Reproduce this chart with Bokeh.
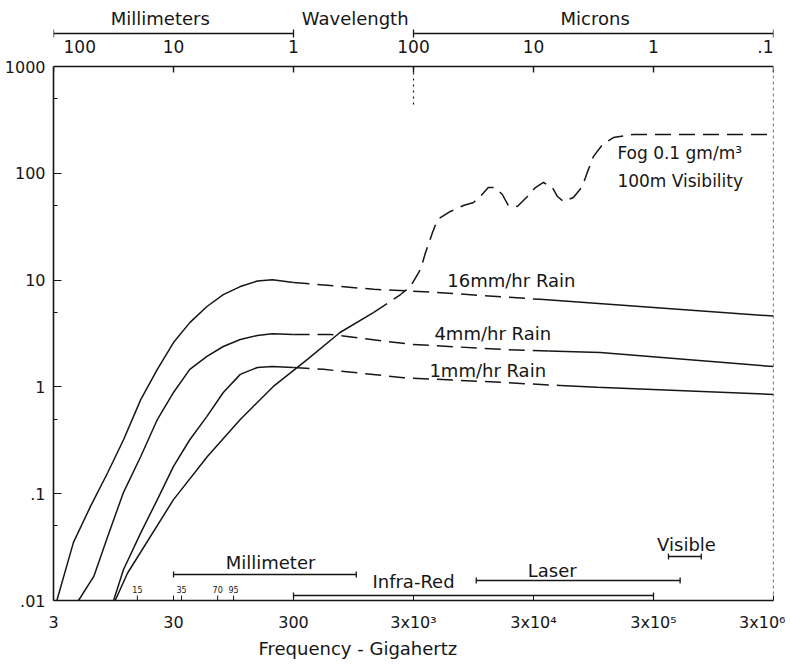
from bokeh.plotting import figure
from bokeh.models import Range1d, FixedTicker, Title
from bokeh.core.properties import value
from bokeh.embed import file_html
from bokeh.resources import INLINE

# ---------------- data ----------------
freq_ticks = [3, 30, 300, 3000, 30000, 300000, 3000000]
freq_tick_labels = ["3", "30", "300", "3x10³", "3x10⁴", "3x10⁵", "3x10⁶"]
atten_ticks = [0.01, 0.1, 1, 10, 100, 1000]
atten_tick_labels = [".01", ".1", "1", "10", "100", "1000"]
atten_minor = [0.05, 0.5, 5, 50, 500]

mm_wavelengths = [100, 10, 1]            # millimetres
mm_labels = ["100", "10", "1"]
micron_wavelengths = [100, 10, 1, 0.1]   # microns
micron_labels = ["100", "10", "1", ".1"]

window_freqs = [15, 35, 70, 95]
window_labels = ["15", "35", "70", "95"]

# 16 mm/hr rain
rain16_rise_f = [3.2, 4.4, 6.1, 8.5, 11.5, 16, 22, 30, 41, 57, 78, 108, 150, 200, 300]
rain16_rise_a = [0.01, 0.035, 0.076, 0.158, 0.32, 0.76, 1.46, 2.6, 4.0, 5.66, 7.3, 8.7, 9.8, 10.1, 9.5]
rain16_mid_f = [300, 1400, 4400, 34000]
rain16_mid_a = [9.5, 8.2, 7.7, 6.6]
rain16_tail_f = [34000, 3000000]
rain16_tail_a = [6.6, 4.6]

# 4 mm/hr rain
rain4_rise_f = [4.85, 6.5, 8.5, 11.5, 16, 22, 30, 41, 57, 78, 108, 150, 200, 300]
rain4_rise_a = [0.01, 0.0168, 0.04, 0.103, 0.223, 0.495, 0.887, 1.46, 1.93, 2.39, 2.78, 3.03, 3.15, 3.1]
rain4_mid_f = [300, 609, 2890, 16900, 40000]
rain4_mid_a = [3.1, 3.1, 2.5, 2.24, 2.17]
rain4_tail_f = [40000, 108000, 3000000]
rain4_tail_a = [2.17, 2.1, 1.55]

# 1 mm/hr rain
rain1_rise_f = [9.5, 11.5, 16, 22, 30, 41, 57, 78, 108, 150, 200, 300]
rain1_rise_a = [0.01, 0.0195, 0.043, 0.088, 0.18, 0.32, 0.53, 0.887, 1.31, 1.52, 1.55, 1.52]
rain1_mid_f = [300, 534, 2470, 16900, 50000]
rain1_mid_a = [1.52, 1.46, 1.22, 1.10, 1.03]
rain1_tail_f = [50000, 102000, 3000000]
rain1_tail_a = [1.03, 0.99, 0.85]

# Fog 0.1 g/m^3
fog_solid_f = [9.8, 12.4, 30, 57.5, 108, 204, 392, 732, 1400]
fog_solid_a = [0.01, 0.018, 0.088, 0.223, 0.495, 1.01, 1.81, 3.23, 4.98]
fog_dash_f = [1400, 2340, 2830, 3430, 3780, 4320, 4750, 6090, 7820, 9490, 10800, 12600,
              14400, 16500, 18500, 22000, 26700, 31100, 36300, 43100, 47500, 53300,
              64500, 76600, 84200, 94900, 113000, 139000, 204000, 3000000]
fog_dash_a = [4.98, 7.33, 8.71, 12.6, 18.1, 27.9, 36.9, 43.9, 49.9, 53.3, 60.6, 73.6,
              73.6, 63.3, 49.9, 48.9, 60.6, 73.6, 82.1, 73.6, 60.6, 54.4,
              59.4, 75.2, 102, 144, 186, 216, 231, 231]

band_names = ["Millimeter", "Infra-Red", "Laser", "Visible"]
band_lo = [30, 300, 10000, 400000]
band_hi = [1000, 300000, 500000, 750000]

# ---------------- layout helpers ----------------
F_MIN, F_MAX = 3, 3e6
A_MIN, A_MAX = 0.01, 1000
PX_DEC_Y = 106.8
FRAME_H = 591
Y_TOP = A_MIN * 10 ** (FRAME_H / PX_DEC_Y)
FRAME_BOTTOM_PAGE = 601


def a_at(page_y):
    """value on the attenuation axis for a page row (annotation placement)"""
    return A_MIN * 10 ** ((FRAME_BOTTOM_PAGE - page_y) / PX_DEC_Y)


def shift(a, px):
    return a * 10 ** (px / PX_DEC_Y)


FONT = value("DejaVu Sans")
INK = "#161616"

p = figure(x_axis_type="log", y_axis_type="log",
           x_range=Range1d(F_MIN, F_MAX), y_range=Range1d(A_MIN, Y_TOP),
           frame_width=720, frame_height=FRAME_H,
           min_border_left=53, min_border_right=12, min_border_top=9, min_border_bottom=56,
           output_backend="svg", toolbar_location=None, background_fill_color="white")
p.grid.visible = False
p.outline_line_color = None

# bottom axis (frequency)
xa = p.xaxis[0]
xa.ticker = FixedTicker(ticks=freq_ticks, minor_ticks=[])
xa.major_label_overrides = {t: l for t, l in zip(freq_ticks, freq_tick_labels)}
xa.major_tick_in = 5
xa.major_tick_out = 0
xa.minor_tick_in = 0
xa.minor_tick_out = 0
xa.major_label_standoff = 12
xa.major_label_text_font = "DejaVu Sans"
xa.major_label_text_font_size = "16px"
xa.major_label_text_color = INK
xa.axis_line_color = INK
xa.axis_line_width = 1.6
xa.major_tick_line_color = INK

# left axis (attenuation)
ya = p.yaxis[0]
ya.bounds = (A_MIN, A_MAX)
ya.ticker = FixedTicker(ticks=atten_ticks, minor_ticks=atten_minor)
ya.major_label_overrides = {t: l for t, l in zip(atten_ticks, atten_tick_labels)}
ya.major_tick_in = 8
ya.major_tick_out = 0
ya.minor_tick_in = 4
ya.minor_tick_out = 0
ya.major_label_standoff = 8
ya.major_label_text_font = "DejaVu Sans"
ya.major_label_text_font_size = "16px"
ya.major_label_text_color = INK
ya.axis_line_color = INK
ya.axis_line_width = 1.6
ya.major_tick_line_color = INK
ya.minor_tick_line_color = INK

p.add_layout(Title(text="Frequency - Gigahertz", align="left", offset=205,
                   text_font="DejaVu Sans", text_font_size="18px",
                   text_font_style="normal", text_color=INK, standoff=2), "below")

# frame: top line at 1000 and dashed right edge
p.segment(x0=[F_MIN], x1=[F_MAX], y0=[A_MAX], y1=[A_MAX], line_color=INK, line_width=1.6)
p.segment(x0=[F_MAX], x1=[F_MAX], y0=[A_MIN], y1=[A_MAX], line_color=INK,
          line_width=1.2, line_dash="3 3")

# top wavelength scale
mm_freqs = [300.0 / w for w in mm_wavelengths]
um_freqs = [3e5 / w for w in micron_wavelengths]
top_freqs = mm_freqs + um_freqs
p.segment(x0=top_freqs, x1=top_freqs, y0=[A_MAX] * len(top_freqs),
          y1=[shift(A_MAX, -6)] * len(top_freqs), line_color=INK, line_width=1.4)
p.segment(x0=[3000], x1=[3000], y0=[A_MAX], y1=[a_at(105)], line_color=INK,
          line_width=1.2, line_dash="2 4")
lab_y = a_at(47)
txt = dict(text_font=FONT, text_color=INK, text_baseline="middle")
p.text(x=mm_freqs[:1], y=[lab_y], text=mm_labels[:1], text_align="left", x_offset=10,
       text_font_size="17px", **txt)
p.text(x=mm_freqs[1:], y=[lab_y] * 2, text=mm_labels[1:], text_align="center",
       text_font_size="17px", **txt)
p.text(x=um_freqs[:3], y=[lab_y] * 3, text=micron_labels[:3], text_align="center",
       text_font_size="17px", **txt)
p.text(x=um_freqs[3:], y=[lab_y], text=micron_labels[3:], text_align="right",
       text_font_size="17px", **txt)

br_y = a_at(34)
for lo, hi in [(mm_freqs[0], mm_freqs[-1]), (um_freqs[0], um_freqs[-1])]:
    p.segment(x0=[lo], x1=[hi], y0=[br_y], y1=[br_y], line_color=INK, line_width=1.3)
    p.segment(x0=[lo, hi], x1=[lo, hi], y0=[shift(br_y, -4)] * 2, y1=[shift(br_y, 4)] * 2,
              line_color=INK, line_width=1.3)

head_y = a_at(19)
p.text(x=[23.3, 980, 98000], y=[head_y] * 3, text=["Millimeters", "Wavelength", "Microns"],
       text_align="center", text_font_size="18px", **txt)

# curves
LW = 1.5
DASH = "16 8"
for f, a in [(rain16_rise_f, rain16_rise_a), (rain4_rise_f, rain4_rise_a),
             (rain1_rise_f, rain1_rise_a), (fog_solid_f, fog_solid_a),
             (rain16_tail_f, rain16_tail_a), (rain4_tail_f, rain4_tail_a),
             (rain1_tail_f, rain1_tail_a)]:
    p.line(f, a, line_color=INK, line_width=LW)
for f, a in [(rain16_mid_f, rain16_mid_a), (rain4_mid_f, rain4_mid_a),
             (rain1_mid_f, rain1_mid_a), (fog_dash_f, fog_dash_a)]:
    p.line(f, a, line_color=INK, line_width=LW, line_dash=DASH)

# curve labels
p.text(x=[5740, 4480, 4070], y=[9.9, 3.15, 1.43],
       text=["16mm/hr Rain", "4mm/hr Rain", "1mm/hr Rain"],
       text_align="left", text_font_size="18px", **txt)
p.text(x=[150000, 150000], y=[a_at(153), a_at(181)],
       text=["Fog 0.1 gm/m³", "100m Visibility"],
       text_align="left", text_font_size="17px", **txt)

# windows along the bottom
p.segment(x0=window_freqs, x1=window_freqs, y0=[A_MIN] * 4, y1=[shift(A_MIN, 5)] * 4,
          line_color=INK, line_width=1.0)
p.text(x=window_freqs, y=[shift(A_MIN, 11)] * 4, text=window_labels, text_align="center",
       text_font_size="8px", **txt)

# spectral bands
band_line_px = [26, 5, 20, 44]
band_text_px = [38, 19, 30, 56]
band_text_x = [193, 3000, 43000, 565000]
for name, lo, hi, lp, tp, tx in zip(band_names, band_lo, band_hi, band_line_px,
                                    band_text_px, band_text_x):
    yb = shift(A_MIN, lp)
    p.segment(x0=[lo], x1=[hi], y0=[yb], y1=[yb], line_color=INK, line_width=1.4)
    p.segment(x0=[lo, hi], x1=[lo, hi], y0=[shift(yb, -3)] * 2, y1=[shift(yb, 3)] * 2,
              line_color=INK, line_width=1.3)
    p.text(x=[tx], y=[shift(A_MIN, tp)], text=[name], text_align="center",
           text_font_size="18px", **txt)

open("out.html", "w").write(file_html(p, INLINE))
